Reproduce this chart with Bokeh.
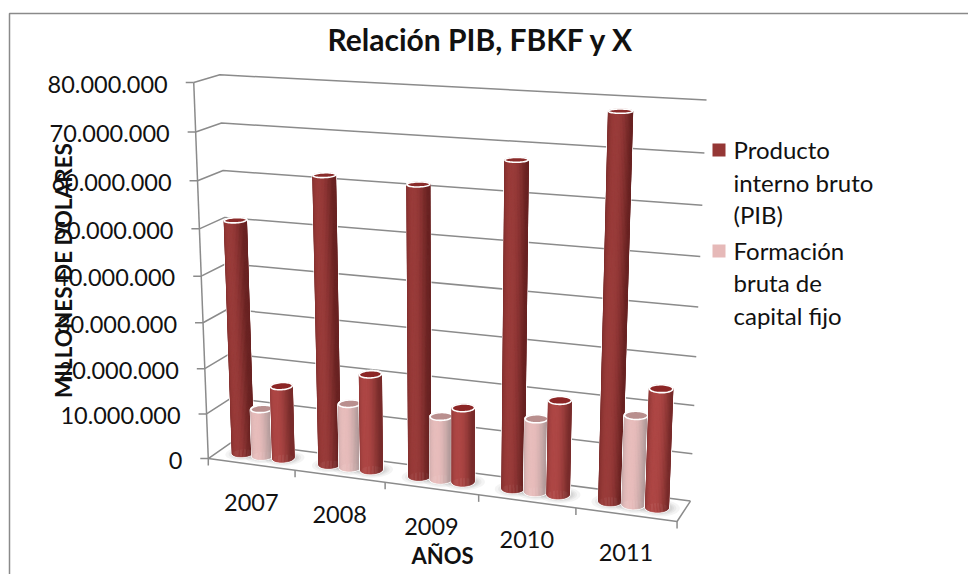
import numpy as np
from bokeh.plotting import figure
from bokeh.embed import file_html
from bokeh.resources import INLINE
from bokeh.core.properties import value

# ---- data (millions of dollars) ----
years = ["2007", "2008", "2009", "2010", "2011"]
pib = [51.0, 61.8, 61.3, 67.5, 78.0]
fbkf = [10.5, 14.0, 13.6, 15.5, 18.6]
exportaciones = [16.1, 20.9, 16.0, 19.9, 24.6]
y_ticks = [0, 10, 20, 30, 40, 50, 60, 70, 80]
y_tick_labels = ["0", "10.000.000", "20.000.000", "30.000.000", "40.000.000",
                 "50.000.000", "60.000.000", "70.000.000", "80.000.000"]
title_text = "Relación PIB,  FBKF y X"
y_title = "MILLONES DE DOLARES"
x_title = "AÑOS"
legend_lines = [["Producto", "interno bruto", "(PIB)"], ["Formación", "bruta de", "capital fijo"]]

FONT = "Lato"
LBL = 24
NUM = 23.5

# ---- 3D camera: calibrated (category, value, depth) -> page pixel ----
cal = []
for v, x, y in zip([80,70,60,50,40,30,20,10,0], [193,195,197,199,202,203,205,206,208], [82,131,180,228,275,322,368,413,458]):
    cal.append((0, v, 0, x, y))
for v, x, y in zip([80,70,60,50,0], [219,220,222,225,232], [75,123,170,217,441]):
    cal.append((0, v, 1, x, y))
for v, x, y in zip([80,70,60,50,40,30,20,10,0], [706,704,702,700,698,696,694,692,690], [100,153,205,256,306,355,405,453,500]):
    cal.append((5, v, 1, x, y))
for u, x, y in zip([1,2,3,4,5], [294,384,478,575,676], [470,483,496,508,520]):
    cal.append((u, 0, 0, x, y))
A = []
for u, v, d, x, y in cal:
    X = [u, v / 10, d, 1]
    sx, sy = x / 500, y / 500
    A.append(X + [0, 0, 0, 0] + [-sx * c for c in X])
    A.append([0, 0, 0, 0] + X + [-sy * c for c in X])
P = np.linalg.svd(np.array(A, float))[2][-1].reshape(3, 4)

def proj(u, v, d):
    u, v, d = np.broadcast_arrays(np.asarray(u, float), np.asarray(v, float), np.asarray(d, float))
    X = np.stack([u, v / 10, d, np.ones_like(u)], axis=0)
    q = P @ X.reshape(4, -1)
    return (q[0] / q[2] * 500).reshape(u.shape), (q[1] / q[2] * 500).reshape(u.shape)

p = figure(width=968, height=574, x_range=(0, 968), y_range=(574, 0), output_backend="svg",
           toolbar_location=None, min_border=0, outline_line_color=None)
p.axis.visible = False
p.grid.visible = False

# chart frame
p.line([9, 9, 968], [574, 13, 13], line_color="#8a8a8a", line_width=1.5)

GRID = "#8b8b8b"
GW = 1.5
def seg(pts, **kw):
    xs, ys = zip(*[tuple(float(a) for a in proj(*q)) for q in pts])
    p.line(list(xs), list(ys), line_color=GRID, line_width=GW, **kw)

for v in y_ticks:
    seg([(0, v, 0), (0, v, 1), (5, v, 1)])
    x0, y0 = proj(0, v, 0)
    p.line([float(x0) - 8, float(x0)], [float(y0), float(y0)], line_color=GRID, line_width=GW)
seg([(0, 80, 0), (0, 0, 0)])
seg([(0, 0, 0), (5, 0, 0), (5, 0, 1)])
for i in range(len(years) + 1):
    x0, y0 = proj(i, 0, 0)
    p.line([float(x0), float(x0)], [float(y0), float(y0) + 7], line_color=GRID, line_width=GW)

# y labels
for v, lab in zip(y_ticks, y_tick_labels):
    x0, y0 = proj(0, v, 0)
    p.text([float(x0) - 26], [float(y0) + 1.5], text=[lab], text_font=value(FONT), text_font_size=f"{NUM}px",
           text_align="right", text_baseline="middle", text_color="#111111")
# x labels
for i, lab in enumerate(years):
    x0, y0 = proj(i + 0.5, 0, 0)
    p.text([float(x0)], [float(y0) + 38], text=[lab], text_font=value(FONT), text_font_size=f"{NUM}px",
           text_align="center", text_baseline="middle", text_color="#111111")

# cylinders
RU, RD = 0.11, 0.22
OFF = [-0.235, 0.0, 0.235]
STYLES = [("#6a2423", "#9a3c3a", "#8a2c2b"), ("#b29a9a", "#e8bdbc", "#b98f8e"), ("#782c2b", "#ae4745", "#8c2626")]

def mix(a, b, t):
    a = [int(a[i:i + 2], 16) for i in (1, 3, 5)]
    b = [int(b[i:i + 2], 16) for i in (1, 3, 5)]
    return "#%02x%02x%02x" % tuple(int(round(x + (y - x) * t)) for x, y in zip(a, b))

th = np.linspace(0, 2 * np.pi, 49)
series = [pib, fbkf, exportaciones]

# floor shadows
for k, vals in enumerate(series):
    for i in range(len(years)):
        uc = i + 0.5 + OFF[k]
        for s in (1.8, 1.5, 1.3, 1.15):
            sx, sy = proj(uc + 0.02 + RU * s * np.cos(th), 0, 0.5 + RD * s * np.sin(th))
            p.patch(sx, sy, fill_color="#666666", fill_alpha=0.07, line_color=None)

for i in range(len(years)):
    for k, vals in enumerate(series):
        val = vals[i]
        edge, mid, cap = STYLES[k]
        uc = i + 0.5 + OFF[k]
        ub = uc + RU * np.cos(th)
        db = 0.5 + RD * np.sin(th)
        bx, by = proj(ub, 0, db)
        tx, ty = proj(ub, val, db)
        order = np.argsort(-(np.sin(th[:-1]) + np.sin(th[1:])))
        qx, qy, qc = [], [], []
        for j in order:
            qx.append([bx[j], bx[j + 1], tx[j + 1], tx[j]])
            qy.append([by[j], by[j + 1], ty[j + 1], ty[j]])
            c = (np.cos(th[j]) + np.cos(th[j + 1])) / 2
            b = max(0.0, 1 - abs(c + 0.1) ** 2.2 / 1.1)
            qc.append(mix(edge, mid, b))
        # white bevel halo
        p.patches(qx, qy, fill_color="white", line_color="white", line_width=2.2, line_alpha=0.85)
        p.patches(qx, qy, fill_color=qc, line_color=qc, line_width=0.6)
        p.patch(tx, ty, fill_color=cap, line_color="white", line_width=1.6)

# titles
p.text([484], [38], text=[title_text], text_font=value(FONT), text_font_style="bold", text_font_size="30px",
       text_align="center", text_baseline="middle", text_color="#111111")
p.text([63], [270], text=[y_title], angle=np.pi / 2, text_font=value(FONT), text_font_style="bold",
       text_font_size="22.5px", text_align="center", text_baseline="middle", text_color="#111111")
p.text([442], [555], text=[x_title], text_font=value(FONT), text_font_style="bold", text_font_size="22px",
       text_align="center", text_baseline="middle", text_color="#111111")

# legend
sw_colors = ["#953735", "#e6b9b8"]
line_y = [[149, 182, 214], [250, 282, 315]]
for cols, lines, ys in zip(sw_colors, legend_lines, line_y):
    p.quad(left=[712], right=[725], top=[ys[0] - 6], bottom=[ys[0] + 7], fill_color=cols, line_color=None)
    p.text([733] * 3, ys, text=lines, text_font=value(FONT), text_font_size=f"{LBL}px",
           text_align="left", text_baseline="middle", text_color="#111111")

open("out.html", "w").write(file_html(p, INLINE))
